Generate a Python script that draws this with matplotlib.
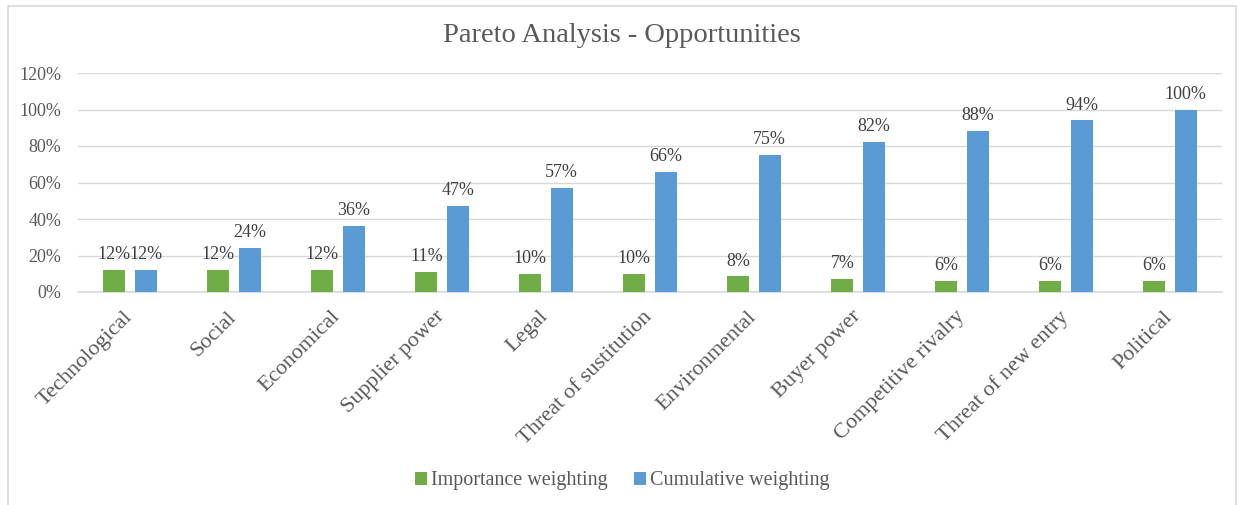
import matplotlib.pyplot as plt
import matplotlib.transforms as mtransforms
import numpy as np
from matplotlib.patches import Rectangle

# Dane
categories = ['Technological', 'Social', 'Economical', 'Supplier power', 'Legal',
              'Threat of sustitution', 'Environmental', 'Buyer power',
              'Competitive rivalry', 'Threat of new entry', 'Political']
importance = [0.12, 0.12, 0.12, 0.11, 0.10, 0.10, 0.085, 0.072, 0.063, 0.062, 0.06]
cumulative = [0.12, 0.24, 0.36, 0.47, 0.57, 0.66, 0.75, 0.82, 0.88, 0.94, 1.00]
yticks = [0, 0.2, 0.4, 0.6, 0.8, 1.0, 1.2]

plt.rcParams['font.family'] = ['Liberation Serif', 'DejaVu Serif']

green = '#70AD47'
blue = '#5B9BD5'
textGrey = '#595959'

fig = plt.figure(figsize=(12.44, 5.05), dpi=100)
# ramka wykresu
fig.patches.append(Rectangle((8 / 1244, -0.01), 1228 / 1244, 1.01 - 6 / 505,
                             transform=fig.transFigure, fill=False,
                             edgecolor='#D9D9D9', linewidth=1.2))

ax = fig.add_axes([78 / 1244, 213 / 505, 1144 / 1244, 219 / 505])

x = np.arange(len(categories))
width = 0.21
off = 0.15

b1 = ax.bar(x - off, importance, width, color=green, label='Importance weighting', zorder=3)
b2 = ax.bar(x + off, cumulative, width, color=blue, label='Cumulative weighting', zorder=3)

# Etykiety danych
for bars, vals in ((b1, importance), (b2, cumulative)):
    for rect, v in zip(bars, vals):
        ax.annotate(f'{v * 100:.0f}%',
                    (rect.get_x() + rect.get_width() / 2, rect.get_height()),
                    xytext=(0, 5), textcoords='offset points',
                    ha='center', va='bottom', fontsize=13, color='#404040')

ax.set_xlim(-0.5, len(categories) - 0.5)
ax.set_ylim(0, 1.2)
ax.set_yticks(yticks)
ax.set_yticklabels([f'{t * 100:.0f}%' for t in yticks])
ax.grid(axis='y', color='#D9D9D9', linewidth=1, zorder=0)
ax.set_axisbelow(True)

for s in ['top', 'right', 'left']:
    ax.spines[s].set_visible(False)
ax.spines['bottom'].set_color('#D9D9D9')
ax.spines['bottom'].set_linewidth(1.2)

ax.set_xticks(x)
ax.set_xticklabels(categories, rotation=45, ha='right', rotation_mode='anchor')
ax.tick_params(axis='both', length=0, colors=textGrey)
ax.tick_params(axis='y', labelsize=13, pad=12)
ax.tick_params(axis='x', labelsize=16, pad=11)

# przesunięcie etykiet osi X w lewo
shift = mtransforms.ScaledTranslation(-7 / 100, 0, fig.dpi_scale_trans)
for lbl in ax.get_xticklabels():
    lbl.set_transform(lbl.get_transform() + shift)

fig.text(0.5, 1 - 35 / 505, 'Pareto Analysis - Opportunities',
         ha='center', va='center', fontsize=20.5, color=textGrey)

fig.legend(loc='center', bbox_to_anchor=(0.5, 1 - 481 / 505), ncol=2,
           frameon=False, fontsize=14.5, labelcolor=textGrey,
           handlelength=0.6, handleheight=0.6, handletextpad=0.2, columnspacing=1.3)

fig.savefig('out.png', dpi=100)
